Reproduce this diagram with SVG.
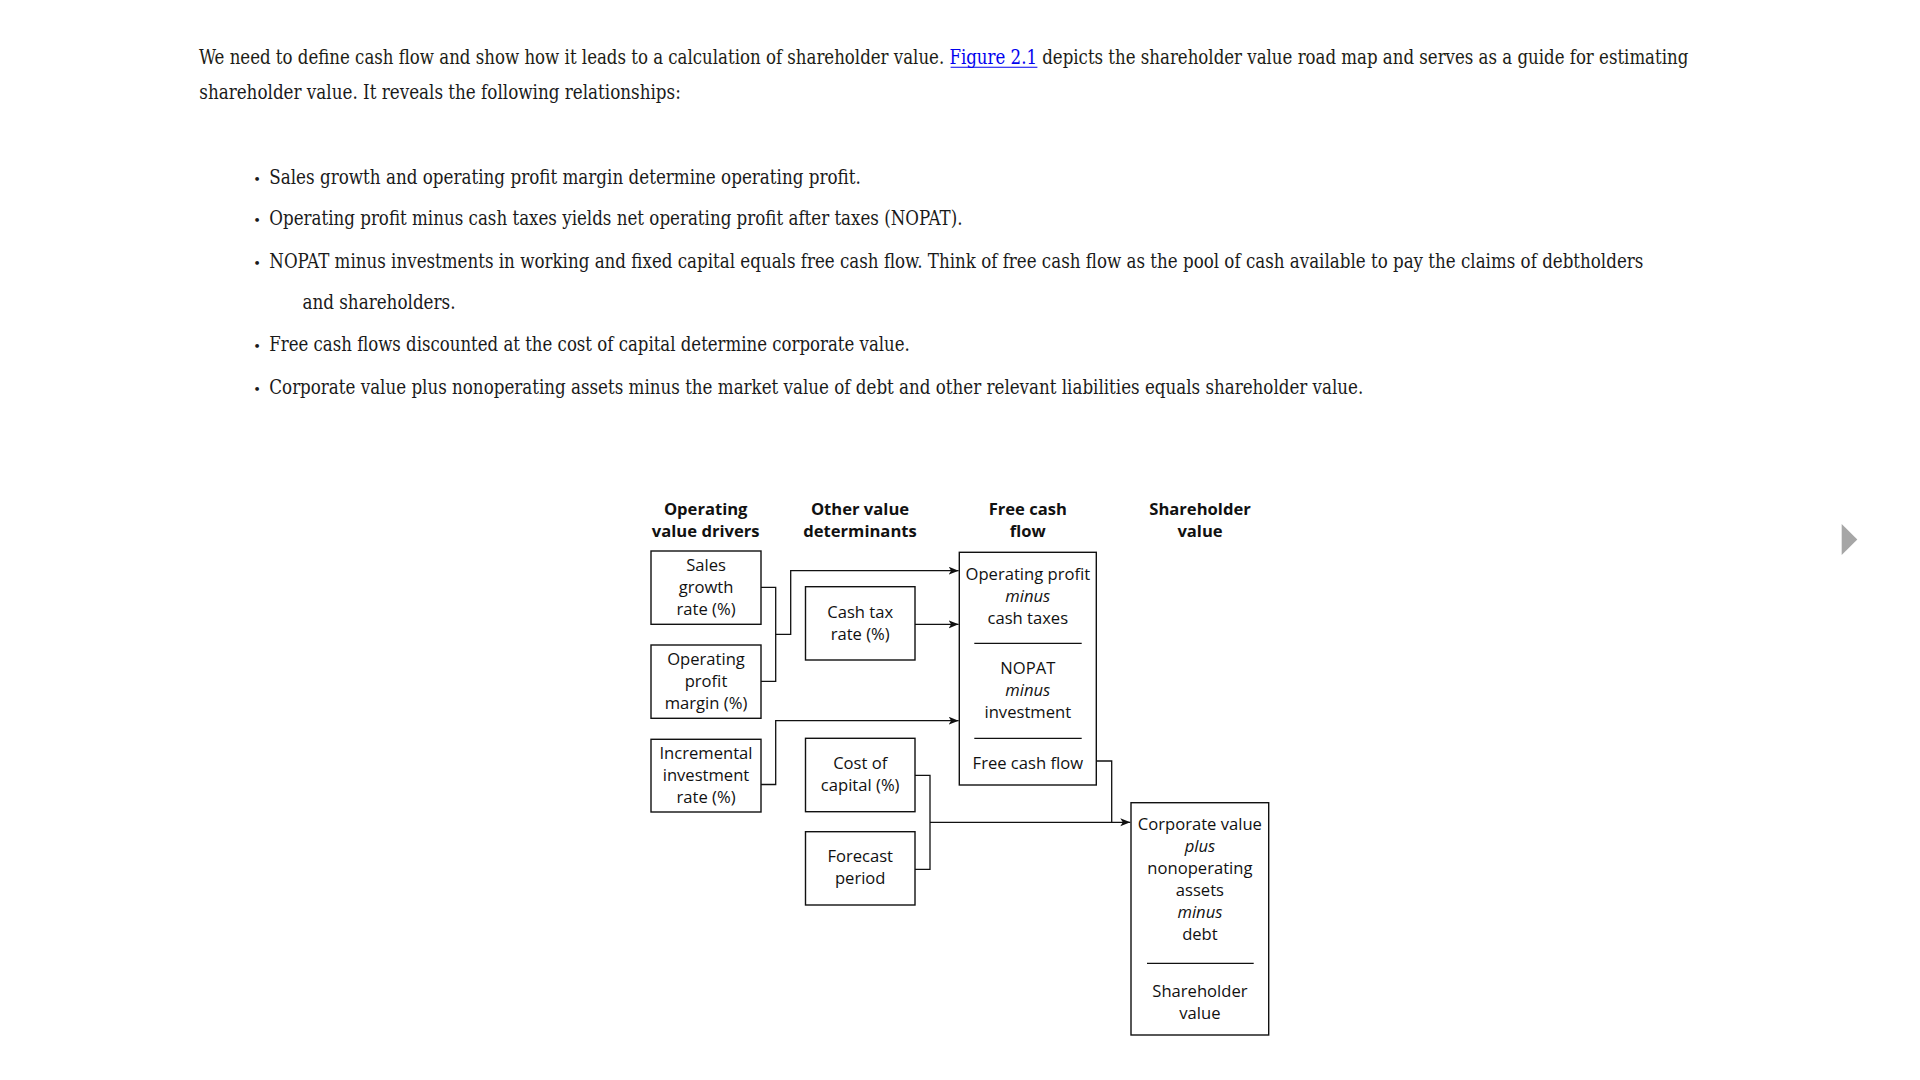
<svg xmlns="http://www.w3.org/2000/svg" width="1920" height="1080" viewBox="0 0 1920 1080">
<style>
.p{font-family:"DejaVu Serif Condensed","DejaVu Serif",serif;font-stretch:condensed;font-size:19.5px;fill:#1a1a1a}
.bul{font-family:"DejaVu Serif",serif;font-size:13px;fill:#1a1a1a;text-anchor:middle}
.d{font-family:"Open Sans","Liberation Sans",sans-serif;font-size:16.6px;fill:#111;text-anchor:middle}
.h{font-weight:bold}
.i{font-style:italic}
.box{fill:#fff;stroke:#111;stroke-width:1.4}
.div{stroke:#111;stroke-width:1.2}
.c{fill:none;stroke:#111;stroke-width:1.3}
</style>
<defs>
<marker id="ah" markerUnits="userSpaceOnUse" markerWidth="12" markerHeight="10" refX="10" refY="4" orient="auto">
<path d="M0,0 L10,4 L0,8 L2.5,4 z" fill="#111"/>
</marker>
<linearGradient id="linkfill" gradientUnits="userSpaceOnUse" x1="0" y1="0" x2="1920" y2="0">
<stop offset="0.4938" stop-color="#1a1a1a"/>
<stop offset="0.4938" stop-color="#0000ee"/>
<stop offset="0.5414" stop-color="#0000ee"/>
<stop offset="0.5414" stop-color="#1a1a1a"/>
</linearGradient>
</defs>
<rect x="0" y="0" width="1920" height="1080" fill="#fff"/>

<g id="paragraph">
<text class="p" x="199" y="64" textLength="1489.3" lengthAdjust="spacingAndGlyphs" style="fill:url(#linkfill)">We need to define cash flow and show how it leads to a calculation of shareholder value. Figure 2.1 depicts the shareholder value road map and serves as a guide for estimating</text>
<line x1="950.6" y1="67.2" x2="1037.4" y2="67.2" stroke="#0000ee" stroke-width="1.1"/>
<text class="p" x="199.3" y="99" textLength="481.5" lengthAdjust="spacingAndGlyphs">shareholder value. It reveals the following relationships:</text>
</g>

<g id="bullets">
<text class="bul" x="257" y="183.5">•</text>
<text class="p" x="269.3" y="183.5" textLength="591.5" lengthAdjust="spacingAndGlyphs">Sales growth and operating profit margin determine operating profit.</text>
<text class="bul" x="257" y="225.2">•</text>
<text class="p" x="269.3" y="225.2" textLength="693.2" lengthAdjust="spacingAndGlyphs">Operating profit minus cash taxes yields net operating profit after taxes (NOPAT).</text>
<text class="bul" x="257" y="267.8">•</text>
<text class="p" x="269.3" y="267.8" textLength="1374" lengthAdjust="spacingAndGlyphs">NOPAT minus investments in working and fixed capital equals free cash flow. Think of free cash flow as the pool of cash available to pay the claims of debtholders</text>
<text class="p" x="302.4" y="309.4" textLength="153.1" lengthAdjust="spacingAndGlyphs">and shareholders.</text>
<text class="bul" x="257" y="351.1">•</text>
<text class="p" x="269.3" y="351.1" textLength="640.5" lengthAdjust="spacingAndGlyphs">Free cash flows discounted at the cost of capital determine corporate value.</text>
<text class="bul" x="257" y="393.9">•</text>
<text class="p" x="269.3" y="393.9" textLength="1094" lengthAdjust="spacingAndGlyphs">Corporate value plus nonoperating assets minus the market value of debt and other relevant liabilities equals shareholder value.</text>
</g>

<polygon id="next-arrow" points="1841.7,524 1857.3,539.5 1841.7,555" fill="#a6a6a6"/>

<g id="headers">
<text class="d h" x="705.7" y="515">Operating</text>
<text class="d h" x="705.7" y="537">value drivers</text>
<text class="d h" x="860" y="515">Other value</text>
<text class="d h" x="860" y="537">determinants</text>
<text class="d h" x="1027.8" y="515">Free cash</text>
<text class="d h" x="1027.8" y="537">flow</text>
<text class="d h" x="1200" y="515">Shareholder</text>
<text class="d h" x="1200" y="537">value</text>
</g>

<g id="connectors">
<polyline class="c" points="760.7,587.3 775.7,587.3 775.7,681.3 760.7,681.3"/>
<polyline class="c" points="775.7,634.3 790.7,634.3 790.7,570.7 958.6,570.7" marker-end="url(#ah)"/>
<line class="c" x1="915" y1="624.3" x2="958.6" y2="624.3" marker-end="url(#ah)"/>
<polyline class="c" points="760.7,784.5 775.7,784.5 775.7,720.7 958.6,720.7" marker-end="url(#ah)"/>
<polyline class="c" points="915,775.3 930,775.3 930,869.3 915,869.3"/>
<line class="c" x1="930" y1="822.3" x2="1130.3" y2="822.3" marker-end="url(#ah)"/>
<polyline class="c" points="1096.3,761 1111.7,761 1111.7,822.3"/>
</g>

<g id="sales-growth">
<rect class="box" x="651" y="551" width="110" height="73.3"/>
<text class="d" x="706" y="571">Sales</text>
<text class="d" x="706" y="593">growth</text>
<text class="d" x="706" y="615">rate (%)</text>
</g>
<g id="operating-profit-margin">
<rect class="box" x="651" y="645" width="110" height="73.3"/>
<text class="d" x="706" y="665">Operating</text>
<text class="d" x="706" y="687">profit</text>
<text class="d" x="706" y="709">margin (%)</text>
</g>
<g id="incremental-investment">
<rect class="box" x="651" y="739.3" width="110" height="72.7"/>
<text class="d" x="706" y="759.3">Incremental</text>
<text class="d" x="706" y="781.3">investment</text>
<text class="d" x="706" y="803.3">rate (%)</text>
</g>
<g id="cash-tax-rate">
<rect class="box" x="805.5" y="586.7" width="109.5" height="73.3"/>
<text class="d" x="860.2" y="618">Cash tax</text>
<text class="d" x="860.2" y="640">rate (%)</text>
</g>
<g id="cost-of-capital">
<rect class="box" x="805.5" y="738.3" width="109.5" height="73.4"/>
<text class="d" x="860.2" y="769">Cost of</text>
<text class="d" x="860.2" y="791">capital (%)</text>
</g>
<g id="forecast-period">
<rect class="box" x="805.5" y="831.7" width="109.5" height="73.3"/>
<text class="d" x="860.2" y="862">Forecast</text>
<text class="d" x="860.2" y="884">period</text>
</g>
<g id="free-cash-flow">
<rect class="box" x="959.3" y="552.3" width="137" height="232.7"/>
<text class="d" x="1027.8" y="579.5">Operating profit</text>
<text class="d i" x="1027.8" y="601.5">minus</text>
<text class="d" x="1027.8" y="623.5">cash taxes</text>
<line class="div" x1="974.3" y1="643.3" x2="1081.7" y2="643.3"/>
<text class="d" x="1027.8" y="674">NOPAT</text>
<text class="d i" x="1027.8" y="696">minus</text>
<text class="d" x="1027.8" y="718">investment</text>
<line class="div" x1="974.3" y1="738.3" x2="1081.7" y2="738.3"/>
<text class="d" x="1027.8" y="769">Free cash flow</text>
</g>
<g id="shareholder-value">
<rect class="box" x="1131" y="802.7" width="137.7" height="232.3"/>
<text class="d" x="1199.9" y="829.5">Corporate value</text>
<text class="d i" x="1199.9" y="851.5">plus</text>
<text class="d" x="1199.9" y="873.5">nonoperating</text>
<text class="d" x="1199.9" y="895.5">assets</text>
<text class="d i" x="1199.9" y="917.5">minus</text>
<text class="d" x="1199.9" y="939.5">debt</text>
<line class="div" x1="1147" y1="963.3" x2="1253.7" y2="963.3"/>
<text class="d" x="1199.9" y="996.5">Shareholder</text>
<text class="d" x="1199.9" y="1018.5">value</text>
</g>
</svg>
